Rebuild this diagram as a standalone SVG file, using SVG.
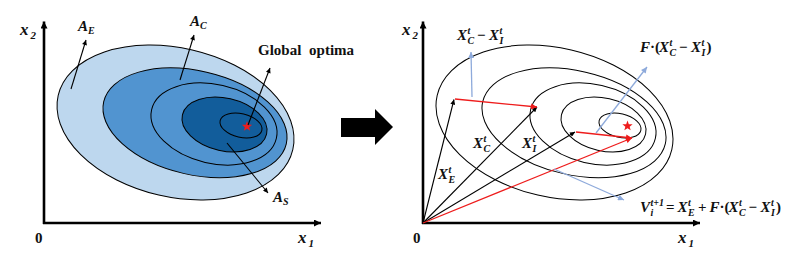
<svg xmlns="http://www.w3.org/2000/svg" width="809" height="254" viewBox="0 0 809 254">
<style>
.m{font-family:"Liberation Serif","Times New Roman",serif;font-weight:bold;font-style:italic;fill:#111;font-size:15px}
.s{font-size:10px}
.op{font-style:normal}
.ax{font-size:17px}
.axs{font-size:11px}
.zero{font-family:"Liberation Serif",serif;font-weight:bold;font-size:15px;fill:#111}
.gl{font-family:"Liberation Serif","Times New Roman",serif;font-weight:bold;font-size:15px;fill:#111;word-spacing:4px}
.axis{stroke:#000;stroke-width:2.6;fill:none}
.thin{stroke:#000;stroke-width:1.1;fill:none}
.red{stroke:#EE1C1C;stroke-width:1.3;fill:none}
.blue{stroke:#8EAADB;stroke-width:1.3;fill:none}
.ell{stroke:#000;stroke-width:1}
.c1{fill:#BDD7EE}
.c2{fill:#5194D0}
.c3{fill:#125D9B}
.open{fill:none}
.star{fill:#EE1C1C}
</style>
<defs>
<marker id="ah-axis" viewBox="0 0 10 10" refX="10" refY="5" markerWidth="9" markerHeight="7" markerUnits="userSpaceOnUse" orient="auto"><path d="M0,0 L10,5 L0,10 z" fill="#000"/></marker>
<marker id="ah-k" viewBox="0 0 10 10" refX="10" refY="5" markerWidth="6" markerHeight="5" markerUnits="userSpaceOnUse" orient="auto"><path d="M0,0 L10,5 L0,10 z" fill="#000"/></marker>
<marker id="ah-r" viewBox="0 0 10 10" refX="10" refY="5" markerWidth="7" markerHeight="6" markerUnits="userSpaceOnUse" orient="auto"><path d="M0,0 L10,5 L0,10 z" fill="#EE1C1C"/></marker>
<marker id="ah-b" viewBox="0 0 10 10" refX="10" refY="5" markerWidth="7" markerHeight="6" markerUnits="userSpaceOnUse" orient="auto"><path d="M0,0 L10,5 L0,10 z" fill="#8EAADB"/></marker>
<polygon id="starshape" points="0,-6 1.47,-2.02 5.71,-1.85 2.38,0.77 3.53,4.85 0,2.5 -3.53,4.85 -2.38,0.77 -5.71,-1.85 -1.47,-2.02"/>
</defs>

<!-- LEFT PANEL -->
<g id="left-contours">
<ellipse id="AE-region" class="ell c1" cx="175.5" cy="122.5" rx="120.4" ry="74.5" transform="rotate(13 175.5 122.5)"/>
<ellipse id="AC-region" class="ell c2" cx="195" cy="122.8" rx="93.7" ry="51.9" transform="rotate(13 195 122.8)"/>
<ellipse class="ell c2" cx="214" cy="124" rx="64" ry="39.4" transform="rotate(13 214 124)"/>
<ellipse id="AS-region" class="ell c3" cx="224.5" cy="124.5" rx="43.2" ry="26.4" transform="rotate(13 224.5 124.5)"/>
<ellipse class="ell c3" cx="241" cy="125.5" rx="21.4" ry="11.8" transform="rotate(13 241 125.5)"/>
<use href="#starshape" class="star" transform="translate(247 126.5) scale(0.9)"/>
</g>

<g id="left-axes">
<line class="axis" x1="44" y1="224" x2="44" y2="21.5" marker-end="url(#ah-axis)"/>
<line class="axis" x1="43" y1="223" x2="321" y2="223" marker-end="url(#ah-axis)"/>
</g>

<g id="left-labels">
<text class="m ax"><tspan x="20" y="35">x</tspan><tspan class="axs" x="30.5" y="38.5">2</tspan></text>
<text class="m ax"><tspan x="298" y="243">x</tspan><tspan class="axs" x="308.5" y="246.5">1</tspan></text>
<text class="zero" x="35" y="243">0</text>
<text class="m" id="lbl-AE"><tspan x="78" y="31">A</tspan><tspan class="s" x="88" y="34">E</tspan></text>
<text class="m" id="lbl-AC"><tspan x="190" y="26">A</tspan><tspan class="s" x="200" y="29">C</tspan></text>
<text class="m" id="lbl-AS"><tspan x="273" y="202">A</tspan><tspan class="s" x="283" y="205">S</tspan></text>
<text class="gl" id="lbl-global" x="258" y="55">Global optima</text>
</g>

<g id="left-pointers">
<line class="thin" x1="71" y1="89" x2="86" y2="40" marker-end="url(#ah-k)"/>
<line class="thin" x1="180" y1="80" x2="194" y2="35" marker-end="url(#ah-k)"/>
<line class="thin" x1="248" y1="125" x2="270" y2="68" marker-end="url(#ah-k)"/>
<line class="thin" x1="227" y1="143" x2="268" y2="193" marker-end="url(#ah-k)"/>
</g>

<!-- TRANSITION ARROW -->
<g id="transition-arrow">
<polygon points="341,118 375,118 375,109 393,127 375,145 375,137 341,137" fill="#000"/>
</g>

<!-- RIGHT PANEL -->
<g id="right-contours" transform="translate(379 0)">
<ellipse class="ell open" cx="175.5" cy="122.5" rx="120.4" ry="74.5" transform="rotate(13 175.5 122.5)"/>
<ellipse class="ell open" cx="195" cy="122.8" rx="93.7" ry="51.9" transform="rotate(13 195 122.8)"/>
<ellipse class="ell open" cx="214" cy="124" rx="64" ry="39.4" transform="rotate(13 214 124)"/>
<ellipse class="ell open" cx="224.5" cy="124.5" rx="43.2" ry="26.4" transform="rotate(13 224.5 124.5)"/>
<ellipse class="ell open" cx="241" cy="125.5" rx="21.4" ry="11.8" transform="rotate(13 241 125.5)"/>
</g>
<use href="#starshape" class="star" transform="translate(627.5 126) scale(0.9)"/>

<g id="right-axes">
<line class="axis" x1="423" y1="224" x2="423" y2="21.5" marker-end="url(#ah-axis)"/>
<line class="axis" x1="422" y1="223" x2="700" y2="223" marker-end="url(#ah-axis)"/>
</g>

<g id="connectors">
<line class="thin" x1="423" y1="223" x2="454" y2="99.5" marker-end="url(#ah-k)"/>
<line class="thin" x1="423" y1="223" x2="537" y2="107" marker-end="url(#ah-k)"/>
<line class="thin" x1="423" y1="223" x2="575" y2="132" marker-end="url(#ah-k)"/>
<line class="red" x1="423" y1="223" x2="632" y2="138" marker-end="url(#ah-r)"/>
<line class="red" x1="455" y1="99" x2="537" y2="107" marker-end="url(#ah-r)"/>
<line class="red" x1="576" y1="132" x2="632" y2="138" marker-end="url(#ah-r)"/>
<line class="blue" x1="472" y1="97" x2="471" y2="52" marker-end="url(#ah-b)"/>
<line class="blue" x1="596" y1="133" x2="647" y2="67" marker-end="url(#ah-b)"/>
<line class="blue" x1="554" y1="169" x2="624" y2="200" marker-end="url(#ah-b)"/>
</g>

<g id="right-labels">
<text class="m ax"><tspan x="402" y="35">x</tspan><tspan class="axs" x="412.5" y="38.5">2</tspan></text>
<text class="m ax"><tspan x="678" y="243">x</tspan><tspan class="axs" x="688.5" y="246.5">1</tspan></text>
<text class="zero" x="413" y="243">0</text>
<text class="m" id="lbl-diff"><tspan x="457" y="40">X</tspan><tspan class="s" x="467.5" y="34">t</tspan><tspan class="s" x="467.5" y="43.5">C</tspan><tspan class="op" x="477" y="40">−</tspan><tspan x="489" y="40">X</tspan><tspan class="s" x="499.5" y="34">t</tspan><tspan class="s" x="499.5" y="43.5">I</tspan></text>
<text class="m" id="lbl-Fdiff"><tspan x="640" y="52">F</tspan><tspan class="op" x="650" y="52">·(</tspan><tspan x="659" y="52">X</tspan><tspan class="s" x="669.5" y="46">t</tspan><tspan class="s" x="669.5" y="55.5">C</tspan><tspan class="op" x="679" y="52">−</tspan><tspan x="691" y="52">X</tspan><tspan class="s" x="701.5" y="46">t</tspan><tspan class="s" x="701.5" y="55.5">I</tspan><tspan class="op" x="706.5" y="52">)</tspan></text>
<text class="m" id="lbl-XC"><tspan x="473" y="148">X</tspan><tspan class="s" x="483.5" y="142">t</tspan><tspan class="s" x="483.5" y="151.5">C</tspan></text>
<text class="m" id="lbl-XI"><tspan x="522" y="148">X</tspan><tspan class="s" x="532.5" y="142">t</tspan><tspan class="s" x="532.5" y="151.5">I</tspan></text>
<text class="m" id="lbl-XE"><tspan x="438" y="179">X</tspan><tspan class="s" x="448.5" y="173">t</tspan><tspan class="s" x="448.5" y="182.5">E</tspan></text>
<text class="m" id="lbl-V"><tspan x="640" y="212">V</tspan><tspan class="s" x="650.5" y="206">t+1</tspan><tspan class="s" x="650.5" y="215.5">i</tspan><tspan class="op" x="666" y="212">=</tspan><tspan x="677.5" y="212">X</tspan><tspan class="s" x="688" y="206">t</tspan><tspan class="s" x="688" y="215.5">E</tspan><tspan class="op" x="698" y="212">+</tspan><tspan x="709.5" y="212">F</tspan><tspan class="op" x="719.5" y="212">·(</tspan><tspan x="728.5" y="212">X</tspan><tspan class="s" x="739" y="206">t</tspan><tspan class="s" x="739" y="215.5">C</tspan><tspan class="op" x="748.5" y="212">−</tspan><tspan x="760.5" y="212">X</tspan><tspan class="s" x="771" y="206">t</tspan><tspan class="s" x="771" y="215.5">I</tspan><tspan class="op" x="776" y="212">)</tspan></text>
</g>
</svg>
